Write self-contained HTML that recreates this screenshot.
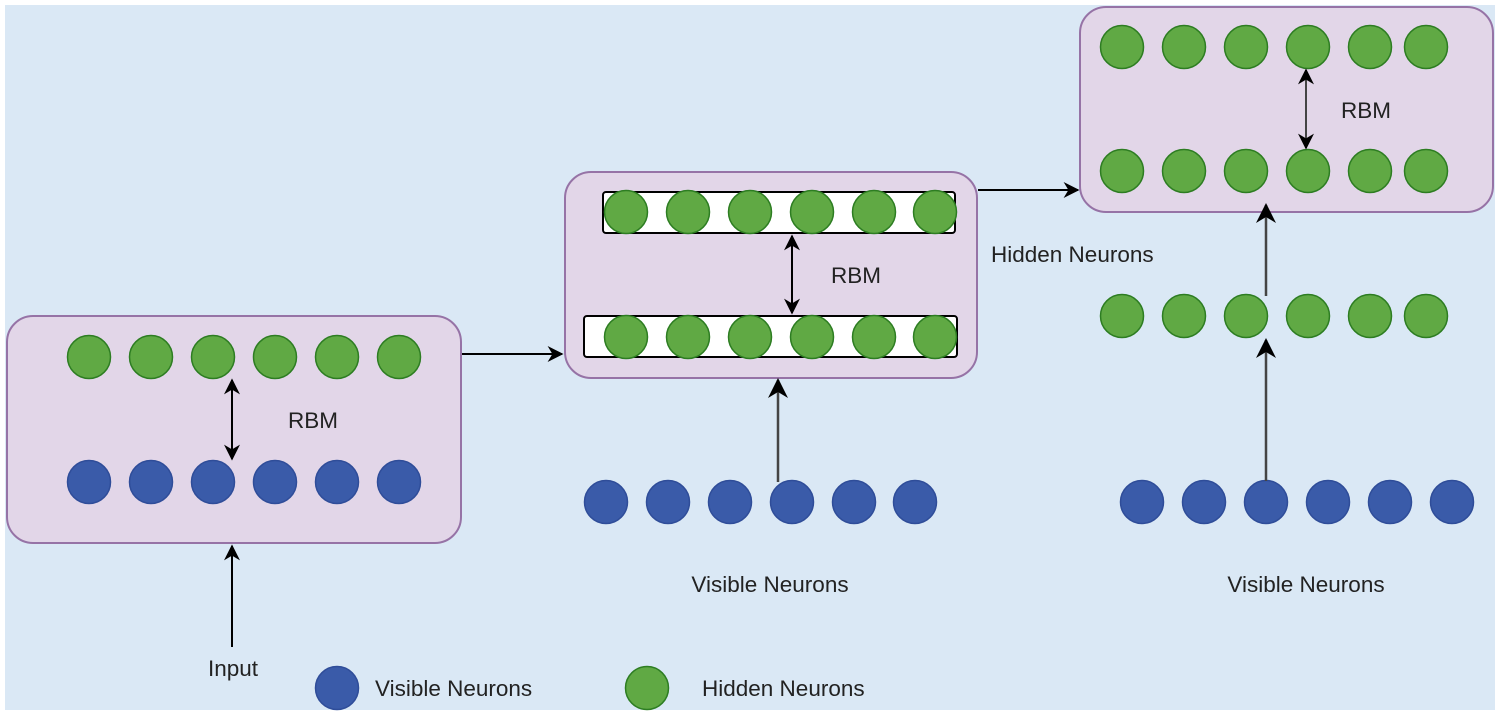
<!DOCTYPE html>
<html><head><meta charset="utf-8"><style>
html,body{margin:0;padding:0;background:#fff;}
svg{display:block;}
text{font-family:"Liberation Sans",Arial,sans-serif;font-size:22.5px;fill:#222;}
</style></head><body>
<svg width="1500" height="715" viewBox="0 0 1500 715" xmlns="http://www.w3.org/2000/svg">
<defs>
<marker id="a" viewBox="0 0 10 10" refX="9" refY="5" markerWidth="8" markerHeight="8" orient="auto-start-reverse"><path d="M0,0 L10,5 L0,10 L3,5 z" fill="#000"/></marker>
<g id="g"><circle r="21.5" fill="#60a944" stroke="#2d7d22" stroke-width="1.5"/></g>
<g id="b"><circle r="21.5" fill="#3a5ba9" stroke="#2f4d99" stroke-width="1.5"/></g>
</defs>
<rect x="5" y="5" width="1490" height="705" fill="#dae8f5"/>
<rect x="7" y="316" width="454" height="227" rx="26" fill="#e2d6e8" stroke="#9673a6" stroke-width="2"/>
<use href="#g" x="89" y="357"/><use href="#g" x="151" y="357"/><use href="#g" x="213" y="357"/><use href="#g" x="275" y="357"/><use href="#g" x="337" y="357"/><use href="#g" x="399" y="357"/>
<use href="#b" x="89" y="482"/><use href="#b" x="151" y="482"/><use href="#b" x="213" y="482"/><use href="#b" x="275" y="482"/><use href="#b" x="337" y="482"/><use href="#b" x="399" y="482"/>
<line x1="232" y1="380" x2="232" y2="459" stroke="#000" stroke-width="2" marker-start="url(#a)" marker-end="url(#a)"/>
<text x="313" y="428" text-anchor="middle">RBM</text>
<rect x="565" y="172" width="412" height="206" rx="26" fill="#e2d6e8" stroke="#9673a6" stroke-width="2"/>
<rect x="603" y="192" width="352" height="41" rx="3" fill="#fff" stroke="#000" stroke-width="2"/>
<rect x="584" y="316" width="373" height="41" rx="3" fill="#fff" stroke="#000" stroke-width="2"/>
<use href="#g" x="626" y="212"/><use href="#g" x="688" y="212"/><use href="#g" x="750" y="212"/><use href="#g" x="812" y="212"/><use href="#g" x="874" y="212"/><use href="#g" x="935" y="212"/>
<use href="#g" x="626" y="337"/><use href="#g" x="688" y="337"/><use href="#g" x="750" y="337"/><use href="#g" x="812" y="337"/><use href="#g" x="874" y="337"/><use href="#g" x="935" y="337"/>
<line x1="792" y1="236" x2="792" y2="313" stroke="#000" stroke-width="2" marker-start="url(#a)" marker-end="url(#a)"/>
<text x="856" y="283" text-anchor="middle">RBM</text>
<rect x="1080" y="7" width="413" height="205" rx="26" fill="#e2d6e8" stroke="#9673a6" stroke-width="2"/>
<use href="#g" x="1122" y="47"/><use href="#g" x="1184" y="47"/><use href="#g" x="1246" y="47"/><use href="#g" x="1308" y="47"/><use href="#g" x="1370" y="47"/><use href="#g" x="1426" y="47"/>
<use href="#g" x="1122" y="171"/><use href="#g" x="1184" y="171"/><use href="#g" x="1246" y="171"/><use href="#g" x="1308" y="171"/><use href="#g" x="1370" y="171"/><use href="#g" x="1426" y="171"/>
<line x1="1306" y1="70" x2="1306" y2="148" stroke="#444" stroke-width="2" marker-start="url(#a)" marker-end="url(#a)"/>
<text x="1366" y="118" text-anchor="middle">RBM</text>
<use href="#g" x="1122" y="316"/><use href="#g" x="1184" y="316"/><use href="#g" x="1246" y="316"/><use href="#g" x="1308" y="316"/><use href="#g" x="1370" y="316"/><use href="#g" x="1426" y="316"/>
<use href="#b" x="606" y="502"/><use href="#b" x="668" y="502"/><use href="#b" x="730" y="502"/><use href="#b" x="792" y="502"/><use href="#b" x="854" y="502"/><use href="#b" x="915" y="502"/>
<use href="#b" x="1142" y="502"/><use href="#b" x="1204" y="502"/><use href="#b" x="1266" y="502"/><use href="#b" x="1328" y="502"/><use href="#b" x="1390" y="502"/><use href="#b" x="1452" y="502"/>
<line x1="462" y1="354" x2="562" y2="354" stroke="#000" stroke-width="2" marker-end="url(#a)"/>
<line x1="978" y1="190" x2="1078" y2="190" stroke="#000" stroke-width="2" marker-end="url(#a)"/>
<line x1="778" y1="482" x2="778" y2="380" stroke="#444" stroke-width="2.5" marker-end="url(#a)"/>
<line x1="1266" y1="296" x2="1266" y2="205" stroke="#444" stroke-width="2.5" marker-end="url(#a)"/>
<line x1="1266" y1="481" x2="1266" y2="340" stroke="#444" stroke-width="2.5" marker-end="url(#a)"/>
<line x1="232" y1="647" x2="232" y2="546" stroke="#000" stroke-width="2" marker-end="url(#a)"/>
<text x="233" y="676" text-anchor="middle">Input</text>
<text x="991" y="262">Hidden Neurons</text>
<text x="770" y="592" text-anchor="middle">Visible Neurons</text>
<text x="1306" y="592" text-anchor="middle">Visible Neurons</text>
<use href="#b" x="337" y="688"/>
<text x="375" y="696">Visible Neurons</text>
<use href="#g" x="647" y="688"/>
<text x="702" y="696">Hidden Neurons</text>
</svg>
</body></html>
